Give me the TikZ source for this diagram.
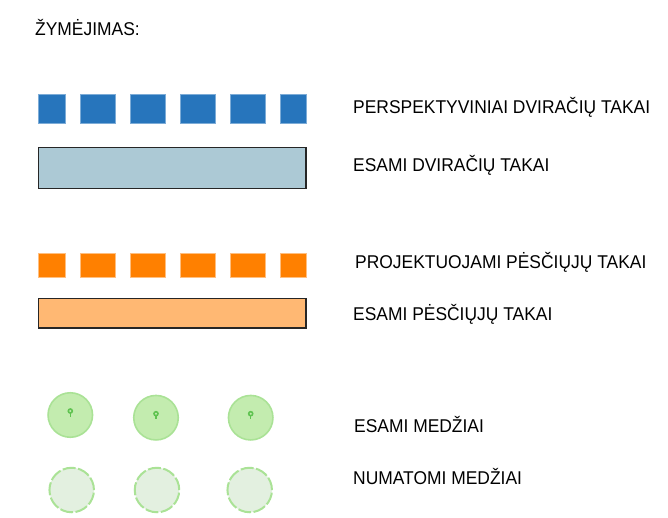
\documentclass[tikz,border=0pt]{standalone}
\usepackage{fontspec}
\setmainfont{Liberation Sans}
\definecolor{dashbluec}{RGB}{39,117,188}
\definecolor{barblue}{RGB}{172,201,213}
\definecolor{dashorangec}{RGB}{255,128,0}
\definecolor{barorange}{RGB}{255,184,115}
\definecolor{treeedge}{RGB}{170,226,150}
\definecolor{treefill}{RGB}{195,236,175}
\definecolor{newfill}{RGB}{227,240,224}
\definecolor{treemark}{RGB}{95,195,80}
\tikzset{
	lbl/.style={anchor=base west,inner sep=0pt,font=\fontsize{18.5}{22}\selectfont,xscale=0.942},
	dashblue/.style={fill=dashbluec,draw=dashbluec!60,line width=0.5pt},
	dashorange/.style={fill=dashorangec,draw=dashorangec!50,line width=0.5pt},
	bar/.style={draw=black!85,line width=1.1pt},
	tree/.style={circle,draw=treeedge,fill=treefill,line width=1.6pt,minimum size=44.5pt,inner sep=0pt},
	newtree/.style={circle,draw=treeedge,fill=newfill,line width=2pt,dash pattern=on 13pt off 2.5pt,minimum size=44.5pt,inner sep=0pt},
}
\begin{document}
\begin{tikzpicture}[x=1pt,y=-1pt]
	\useasboundingbox (0,0) rectangle (668,517);
	\node[lbl] (title) at (35,35) {ŽYMĖJIMAS:};
	% dviraciu takai
	\foreach \a/\b in {38.5/65,80/115,130/165,180/215,230/265,280/306}
		\filldraw[dashblue] (\a,94.7) rectangle (\b,123.5);
	\draw[bar,fill=barblue] (38.7,147.7) rectangle (306,188.7);
	\node[lbl] (perspektyv) at (353,113.5) {PERSPEKTYVINIAI DVIRAČIŲ TAKAI};
	\node[lbl] (esamidv) at (353,171.5) {ESAMI DVIRAČIŲ TAKAI};
	% pesciuju takai
	\foreach \a/\b in {38.5/65,80/115,130/165,180/215,230/265,280/306}
		\filldraw[dashorange] (\a,253.7) rectangle (\b,277);
	\draw[bar,fill=barorange] (38.7,298.7) rectangle (306,328);
	\node[lbl] (projekt) at (355,268) {PROJEKTUOJAMI PĖSČIŲJŲ TAKAI};
	\node[lbl] (esamipes) at (353,320.3) {ESAMI PĖSČIŲJŲ TAKAI};
	% medziai
	\foreach \n/\x/\y in {a/70.3/415,b/156/417.7,c/250.7/417.7}{
		\node[tree] (tree\n) at (\x,\y) {};
		\draw[treemark,line width=1.6pt] (\x,\y-4) circle (2pt);
		\draw[treemark,line width=1.1pt] (\x,\y-2) -- (\x,\y+1.5);
	}
	\foreach \n/\x in {a/71.7,b/157,c/249.7}
		\node[newtree] (new\n) at (\x,490) {};
	\node[lbl] (esamim) at (354,432.3) {ESAMI MEDŽIAI};
	\node[lbl] (numatomi) at (353,484.5) {NUMATOMI MEDŽIAI};
\end{tikzpicture}
\end{document}
